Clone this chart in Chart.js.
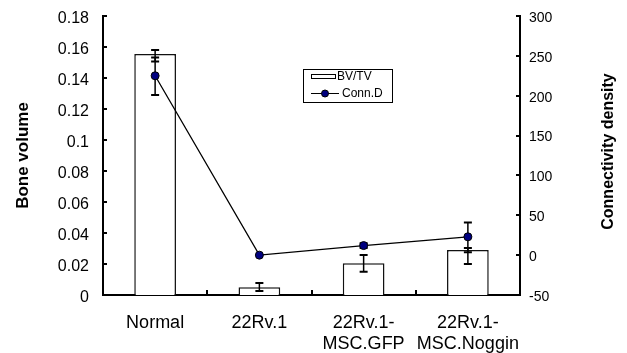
<!DOCTYPE html>
<html>
<head>
<meta charset="utf-8">
<script src="https://cdn.jsdelivr.net/npm/chart.js@4.4.1/dist/chart.umd.min.js"></script>
<style>
  html, body { margin: 0; padding: 0; background: #fff; }
  #wrap { width: 627px; height: 353px; position: relative; }
</style>
</head>
<body>
<div id="wrap"><canvas id="chart"></canvas></div>
<script>
// categories and values
const categories = ['Normal', '22Rv.1', ['22Rv.1-', 'MSC.GFP'], ['22Rv.1-', 'MSC.Noggin']];
const bvtv = [0.1555, 0.005, 0.0205, 0.029];
const bvtvErrPlus = [0.0026, 0.0027, 0.0053, 0.0014];
const bvtvErrMinus = [0.0049, 0.0024, 0.0055, 0.0014];
const connD = [225, 0, 12, 23];
const connDErrPlus = [23, 0, 3, 18];
const connDErrMinus = [24, 0, 3, 34];

const FONT = "'Liberation Sans', Arial, sans-serif";

// error bars for both series, inward ticks, right title and the boxed legend
const extras = {
  id: 'extras',
  afterDatasetsDraw(chart) {
    const ctx = chart.ctx;
    const x = chart.scales.x, y = chart.scales.y, y1 = chart.scales.y1;
    const area = chart.chartArea;
    ctx.save();
    ctx.strokeStyle = '#000';

    const errBar = (px, top, bot) => {
      ctx.lineWidth = 1.5;
      ctx.beginPath();
      ctx.moveTo(px, top); ctx.lineTo(px, bot);
      ctx.stroke();
      ctx.lineWidth = 2;
      ctx.beginPath();
      ctx.moveTo(px - 4, top); ctx.lineTo(px + 4, top);
      ctx.moveTo(px - 4, bot); ctx.lineTo(px + 4, bot);
      ctx.stroke();
    };

    const barMeta = chart.getDatasetMeta(0);
    bvtv.forEach((v, i) => {
      const px = barMeta.data[i].x;
      errBar(px, y.getPixelForValue(v + bvtvErrPlus[i]), y.getPixelForValue(v - bvtvErrMinus[i]));
    });
    const lineMeta = chart.getDatasetMeta(1);
    connD.forEach((v, i) => {
      if (!connDErrPlus[i] && !connDErrMinus[i]) return;
      const px = lineMeta.data[i].x;
      errBar(px, y1.getPixelForValue(v + connDErrPlus[i]), y1.getPixelForValue(v - connDErrMinus[i]));
    });
    // markers on top of the error bars
    lineMeta.data.forEach(p => {
      ctx.beginPath();
      ctx.arc(p.x, p.y, 4, 0, Math.PI * 2);
      ctx.fillStyle = '#000080';
      ctx.fill();
      ctx.lineWidth = 1;
      ctx.stroke();
    });

    // inward ticks
    ctx.lineWidth = 2;
    ctx.beginPath();
    y.ticks.forEach(t => {
      const py = Math.round(y.getPixelForValue(t.value));
      ctx.moveTo(area.left, py); ctx.lineTo(area.left + 4, py);
    });
    y1.ticks.forEach(t => {
      const py = Math.round(y1.getPixelForValue(t.value));
      ctx.moveTo(area.right, py); ctx.lineTo(area.right - 4, py);
    });
    for (let i = 1; i < categories.length; i++) {
      const px = Math.round((x.getPixelForValue(i - 1) + x.getPixelForValue(i)) / 2);
      ctx.moveTo(px, area.bottom); ctx.lineTo(px, area.bottom - 5);
    }
    ctx.stroke();

    // right axis title, reading bottom to top
    ctx.save();
    ctx.translate(y1.right - 18, (area.top + area.bottom) / 2 - 4);
    ctx.rotate(-Math.PI / 2);
    ctx.font = 'bold 16px ' + FONT;
    ctx.fillStyle = '#000';
    ctx.textAlign = 'center';
    ctx.textBaseline = 'middle';
    ctx.fillText('Connectivity density', 0, 0);
    ctx.restore();

    // legend box
    const lx = area.left + 200, ly = area.top + 53;
    ctx.lineWidth = 1;
    ctx.strokeRect(lx + 0.5, ly + 0.5, 89, 33);
    ctx.fillStyle = '#fff';
    ctx.fillRect(lx + 8, ly + 6, 24, 4);
    ctx.strokeRect(lx + 8.5, ly + 5.5, 24, 4);
    ctx.beginPath();
    ctx.moveTo(lx + 8, ly + 24.5); ctx.lineTo(lx + 36, ly + 24.5);
    ctx.stroke();
    ctx.beginPath();
    ctx.arc(lx + 22, ly + 24.5, 3.5, 0, Math.PI * 2);
    ctx.fillStyle = '#000080';
    ctx.fill();
    ctx.stroke();
    ctx.fillStyle = '#000';
    ctx.font = '12px ' + FONT;
    ctx.textBaseline = 'middle';
    ctx.fillText('BV/TV', lx + 34, ly + 8);
    ctx.fillText('Conn.D', lx + 39, ly + 25);
    ctx.restore();
  }
};

const noPad = s => { s.paddingTop = 0; s.paddingBottom = 0; };

new Chart(document.getElementById('chart'), {
  data: {
    labels: categories,
    datasets: [
      {
        type: 'bar',
        label: 'BV/TV',
        data: bvtv,
        yAxisID: 'y',
        backgroundColor: '#fff',
        borderColor: '#111',
        borderWidth: 1.5,
        categoryPercentage: 1,
        barPercentage: 0.4,
        order: 2
      },
      {
        type: 'line',
        label: 'Conn.D',
        data: connD,
        yAxisID: 'y1',
        borderColor: '#000',
        borderWidth: 1.3,
        pointRadius: 0,
        tension: 0,
        order: 1
      }
    ]
  },
  options: {
    responsive: true,
    maintainAspectRatio: false,
    animation: false,
    layout: { padding: { top: 16, left: 0, right: 0, bottom: 0 } },
    plugins: { legend: { display: false }, tooltip: { enabled: false } },
    scales: {
      x: {
        offset: true,
        grid: { display: false, drawTicks: false },
        border: { color: '#000', width: 2 },
        ticks: { color: '#000', font: { family: FONT, size: 18 }, padding: 17, maxRotation: 0, autoSkip: false },
        afterFit: s => { s.height = 58; s.paddingLeft = 0; s.paddingRight = 0; }
      },
      y: {
        position: 'left',
        min: 0, max: 0.18,
        grid: { display: false, drawTicks: false },
        border: { color: '#000', width: 2 },
        ticks: { stepSize: 0.02, color: '#000', font: { family: FONT, size: 16 }, padding: 14, labelOffset: 3,
                 callback: v => String(+v.toFixed(2)) },
        title: { display: true, text: 'Bone volume', color: '#000',
                 font: { family: FONT, size: 17, weight: 'bold' }, padding: { top: 13, bottom: 0 } },
        afterFit: s => { s.width = 103; noPad(s); }
      },
      y1: {
        position: 'right',
        min: -50, max: 300,
        grid: { display: false, drawTicks: false },
        border: { color: '#000', width: 2 },
        ticks: { stepSize: 50, color: '#000', font: { family: FONT, size: 14 }, padding: 9, labelOffset: 2 },
        afterFit: s => { s.width = 107; noPad(s); }
      }
    }
  },
  plugins: [extras]
});
</script>
</body>
</html>
